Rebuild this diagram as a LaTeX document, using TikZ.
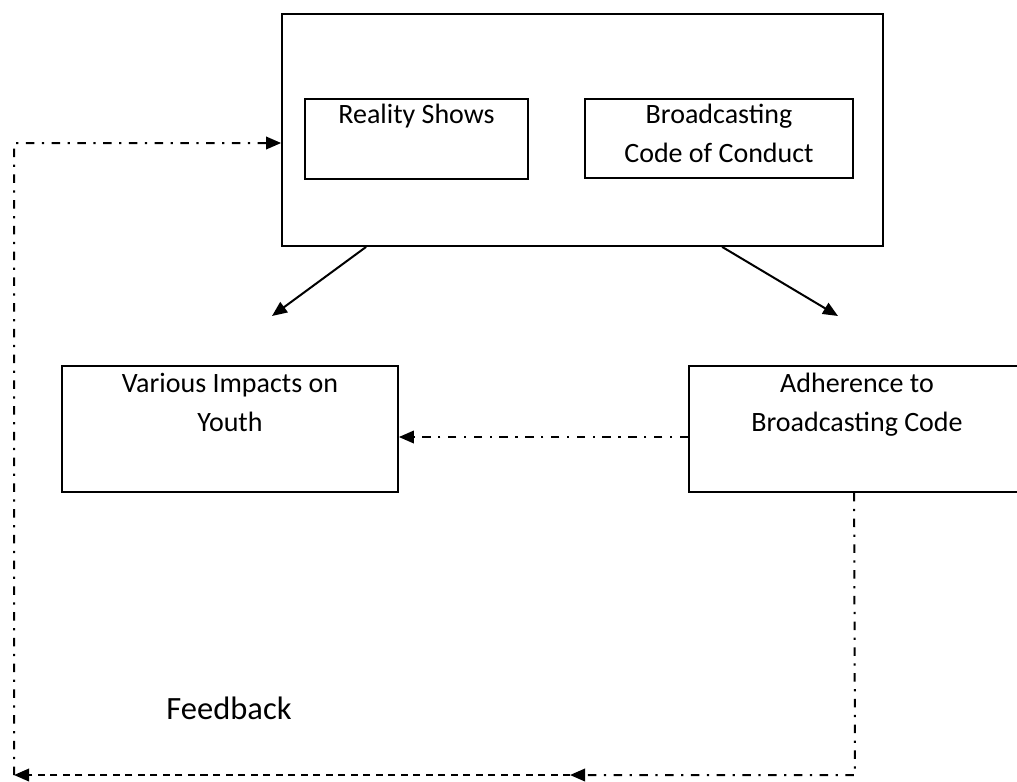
\documentclass[tikz,border=0pt]{standalone}
\usepackage{fontspec}
\setmainfont{Carlito}
\usetikzlibrary{positioning,arrows.meta}
\begin{document}
\begin{tikzpicture}[x=0.4pt,y=-0.4pt]
\tikzstyle{mybox} = [draw, line width=0.7pt, inner sep=0pt]
\tikzstyle{mytext} = [align=center, inner sep=0pt, font=\fontsize{11.2}{15.6}\selectfont]
\tikzstyle{myarrow} = [line width=0.8pt, -{Triangle[length=6pt,width=5pt]}]
\tikzstyle{mydashdot} = [line width=0.8pt, dash pattern=on 3.4pt off 3pt on 0.9pt off 3pt]
\tikzstyle{mydashed} = [line width=0.8pt, dash pattern=on 2.8pt off 2.2pt]
\useasboundingbox (0,0) rectangle (1017,781);

\node[mybox, minimum width=240.4pt, minimum height=92.8pt] (outer) at (582.5,130) {};
\node[mybox, minimum width=89.2pt, minimum height=32pt] (rs) at (416.5,139) {};
\node[mytext, below=2pt of rs.north] (rs-t) {Reality Shows};
\node[mybox, minimum width=107.2pt, minimum height=31.6pt] (bc) at (719,138.5) {};
\node[mytext, below=2pt of bc.north] (bc-t) {Broadcasting\\Code of Conduct};
\node[mybox, minimum width=134.4pt, minimum height=50.4pt] (vi) at (230,429) {};
\node[mytext, below=3pt of vi.north] (vi-t) {Various Impacts on\\Youth};
\node[mybox, minimum width=134.4pt, minimum height=50.4pt] (ad) at (857,429) {};
\node[mytext, below=3pt of ad.north] (ad-t) {Adherence to\\Broadcasting Code};
\node[mytext, font=\fontsize{13}{15}\selectfont] (fb) at (229,708) {Feedback};

\coordinate (tip-l) at (272,316);
\coordinate (tip-r) at (838,316);
\coordinate (fb-br) at (855,775);
\coordinate (fb-mid) at (570,775);
\coordinate (fb-bl) at (14,775);
\coordinate (fb-tl) at (14,143);

\draw[myarrow] ([xshift=34pt]outer.south west) -- (tip-l);
\draw[myarrow] ([xshift=176.4pt]outer.south west) -- (tip-r);
\draw[myarrow, mydashdot] ([yshift=-3.2pt]ad.west) -- ([yshift=-3.2pt]vi.east);
\draw[myarrow, mydashdot] ([xshift=66.4pt]ad.south west) -- (fb-br) -- (fb-mid);
\draw[myarrow, mydashed] (fb-mid) -- (fb-bl);
\draw[myarrow, mydashdot] (fb-bl) -- (fb-tl) -- ([yshift=-5.2pt]outer.west);
\end{tikzpicture}
\end{document}
